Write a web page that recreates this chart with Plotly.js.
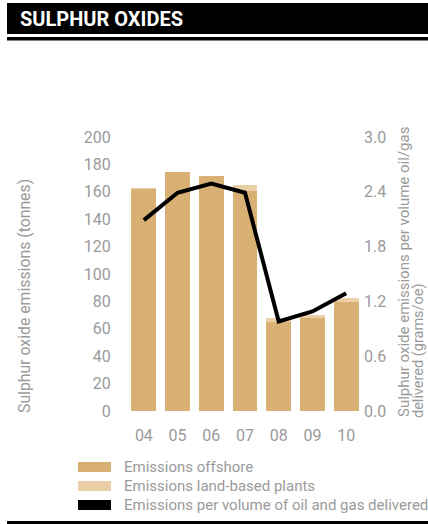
<!DOCTYPE html>
<html>
<head>
<meta charset="utf-8">
<script src="https://cdn.plot.ly/plotly-3.0.1.min.js"></script>
<style>html,body{margin:0;padding:0;background:#fff;}#chart{width:428px;height:524px;}</style>
</head>
<body>
<div id="chart"></div>
<script>
// ---- data ----
var years = ['04', '05', '06', '07', '08', '09', '10'];
var offshore = [162, 174.5, 171.5, 160.5, 65, 68, 79.5];
var landBased = [0.6, 0, 0, 4.5, 3, 2, 3];
var perVolume = [2.09, 2.39, 2.49, 2.39, 0.98, 1.09, 1.29];
var leftTicks = [0, 20, 40, 60, 80, 100, 120, 140, 160, 180, 200];
var rightTicks = [0, 0.6, 1.2, 1.8, 2.4, 3.0];
var rightTickText = ['0.0', '0.6', '1.2', '1.8', '2.4', '3.0'];
var seriesNames = ['Emissions offshore', 'Emissions land-based plants', 'Emissions per volume of oil and gas delivered'];
var leftTitle = 'Sulphur oxide emissions (tonnes)';
var rightTitle1 = 'Sulphur oxide emissions per volume oil/gas';
var rightTitle2 = 'delivered (grams/oe)';

// ---- style ----
var cOff = '#D9B074';
var cLand = '#EBCFA7';
var grey = '#9a9a9a';
var FONT = 'Roboto, "DejaVu Sans", sans-serif';

var ML = 127, MR = 65, MT = 137, MB = 113, WW = 428, HH = 524;
var PW = WW - ML - MR, PH = HH - MT - MB;
function X(px) { return (px - ML) / PW; }
function Y(py) { return (HH - MB - py) / PH; }

var traces = [
  { type: 'bar', x: years, y: offshore, name: seriesNames[0], marker: { color: cOff }, hoverinfo: 'x+y' },
  { type: 'bar', x: years, y: landBased, name: seriesNames[1], marker: { color: cLand }, hoverinfo: 'x+y' },
  { type: 'scatter', mode: 'lines', x: years, y: perVolume, yaxis: 'y2', name: seriesNames[2],
    line: { color: '#000', width: 4 } }
];

function rect(x0, x1, y0, y1, color) {
  return { type: 'rect', xref: 'paper', yref: 'paper', x0: X(x0), x1: X(x1), y0: Y(y1), y1: Y(y0),
    fillcolor: color, line: { width: 0 }, layer: 'above' };
}

var legendColors = [cOff, cLand, '#000'];
var legendY = [467, 486, 505];
var shapes = [
  rect(7, 428, 3, 34, '#000'),
  rect(7, 428, 37, 40.5, '#000'),
  rect(7, 428, 521, 524, '#000')
];
var annotations = [];
for (var i = 0; i < 3; i++) {
  shapes.push(rect(78, 111, legendY[i] - 5, legendY[i] + 5, legendColors[i]));
  annotations.push({ xref: 'paper', yref: 'paper', x: X(122), y: Y(legendY[i]), xanchor: 'left', yanchor: 'middle',
    text: seriesNames[i], showarrow: false, font: { family: FONT, size: 15, color: grey } });
}
annotations.push({ xref: 'paper', yref: 'paper', x: X(24), y: Y(415), xanchor: 'center', yanchor: 'bottom',
  text: leftTitle, textangle: -90, showarrow: false,
  font: { family: FONT, size: 15.8, color: grey } });
annotations.push({ xref: 'paper', yref: 'paper', x: X(404), y: Y(419), xanchor: 'center', yanchor: 'bottom',
  text: rightTitle1, textangle: -90, showarrow: false,
  font: { family: FONT, size: 15, color: grey } });
annotations.push({ xref: 'paper', yref: 'paper', x: X(418.5), y: Y(420), xanchor: 'center', yanchor: 'bottom',
  text: rightTitle2, textangle: -90, showarrow: false,
  font: { family: FONT, size: 14.5, color: grey } });

var layout = {
  width: WW, height: HH,
  margin: { l: ML, r: MR, t: MT, b: MB, pad: 0 },
  paper_bgcolor: '#fff', plot_bgcolor: '#fff',
  showlegend: false,
  barmode: 'stack', bargap: 0.26,
  font: { family: FONT, color: grey },
  title: { text: 'SULPHUR OXIDES', xref: 'container', yref: 'container', x: 20 / WW, xanchor: 'left',
    y: 1 - 18.5 / HH, yanchor: 'middle',
    font: { family: FONT, size: 20, color: '#fff', weight: 'bold' } },
  xaxis: { type: 'category', showgrid: false, zeroline: false, showline: false,
    ticks: 'outside', ticklen: 10, tickcolor: 'rgba(0,0,0,0)',
    tickfont: { family: FONT, size: 16, color: grey } },
  yaxis: { range: [0, 200], tickvals: leftTicks, showgrid: false, zeroline: false, showline: false,
    ticks: 'outside', ticklen: 12, tickcolor: 'rgba(0,0,0,0)',
    tickfont: { family: FONT, size: 16, color: grey } },
  yaxis2: { range: [0, 3], overlaying: 'y', side: 'right', tickvals: rightTicks, ticktext: rightTickText,
    showgrid: false, zeroline: false, showline: false, ticks: '',
    tickfont: { family: FONT, size: 16, color: grey } },
  shapes: shapes,
  annotations: annotations
};

Plotly.newPlot('chart', traces, layout, { displayModeBar: false, staticPlot: true });
</script>
</body>
</html>
